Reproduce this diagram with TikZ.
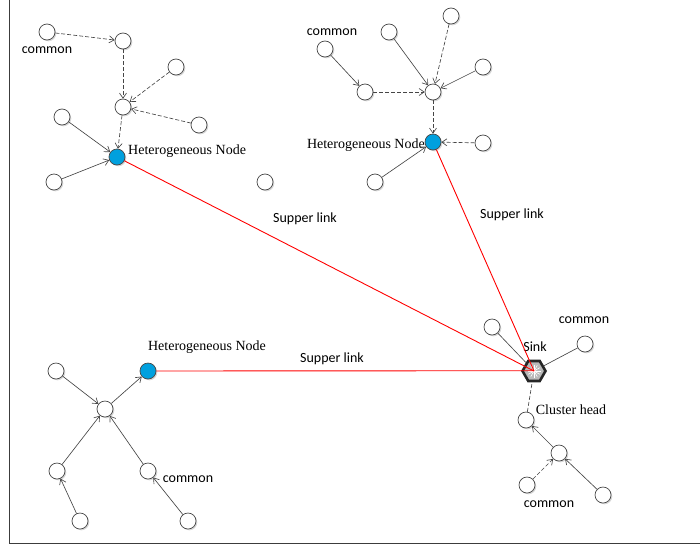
\documentclass[tikz,border=0pt]{standalone}
\usepackage{fontspec}
\setmainfont{Liberation Serif}
\newfontfamily\calfont{Carlito}
\usetikzlibrary{arrows.meta,shapes.geometric,shadows}
\definecolor{edgegray}{RGB}{70,70,70}
\definecolor{hblue}{RGB}{0,160,222}
\definecolor{framegray}{RGB}{60,60,60}
\definecolor{shadowgray}{RGB}{215,215,215}
\tikzset{
  nd/.style={circle,draw=edgegray,line width=0.7pt,fill=white,minimum size=16pt,inner sep=0pt,
    drop shadow={opacity=1,fill=shadowgray,shadow xshift=1.3pt,shadow yshift=-1.3pt}},
  hn/.style={nd,fill=hblue},
  sinkn/.style={regular polygon,regular polygon sides=6,draw=black!85,line width=2.6pt,fill=gray!55,
    minimum size=23pt,inner sep=0pt},
  arr/.style={-{Straight Barb[length=5pt,width=7pt]}},
  sl/.style={draw=edgegray,line width=0.65pt,arr},
  dl/.style={draw=edgegray,line width=0.65pt,dash pattern=on 4pt off 2pt,arr},
  pl/.style={draw=edgegray,line width=0.65pt},
  pdl/.style={draw=edgegray,line width=0.65pt,dash pattern=on 4pt off 2pt},
  rl/.style={draw=red,line width=0.9pt},
  sans/.style={font=\calfont\fontsize{14}{16}\selectfont,inner sep=0pt},
  serif/.style={font=\fontsize{14}{16}\selectfont,inner sep=0pt}
}
\begin{document}
\begin{tikzpicture}[x=1pt,y=-1pt]
\useasboundingbox (0,0) rectangle (700,549);
\draw[framegray,line width=1.2pt] (9.5,0) coordinate (ftop) -- (9.5,543.5) coordinate (fcorner) -- (700,543.5) coordinate (fright);

% top-left cluster
\node[nd] (a1) at (47,32) {};
\node[nd] (a2) at (123,41) {};
\node[nd] (a3) at (176,67) {};
\node[nd] (a4) at (123,107) {};
\node[nd] (a5) at (62,117) {};
\node[nd] (a6) at (199,125) {};
\node[hn] (h1) at (117,157) {};
\node[nd] (a7) at (54,182) {};
\node[nd] (lone) at (265,182) {};
\node[sans] (tcom1) at (47,50) {common};
\node[serif,anchor=west] (th1) at (128,151) {Heterogeneous Node};

% top-right cluster
\node[nd] (b1) at (325,49) {};
\node[nd] (b2) at (389,32) {};
\node[nd] (b3) at (451,16) {};
\node[nd] (b4) at (483,67) {};
\node[nd] (b5) at (365,92) {};
\node[nd] (b6) at (433,92) {};
\node[hn] (h2) at (433,142) {};
\node[nd] (b7) at (483,143) {};
\node[nd] (b8) at (375,182) {};
\node[sans] (tcom2) at (332,32) {common};
\node[serif,anchor=east] (th2) at (425,145) {Heterogeneous Node};

% bottom-right cluster
\node[sinkn] (sink) at (534,371) {};
\foreach \ang in {0,30,...,330}{\draw[white,line width=0.6pt] (sink.center) -- ++(\ang:6.5);}
\node[nd] (c1) at (492,327) {};
\node[nd] (c2) at (585,344) {};
\node[nd] (ch) at (526,420) {};
\node[nd] (c3) at (559,453) {};
\node[nd] (c4) at (527,485) {};
\node[nd] (c5) at (603,495) {};
\node[sans] (tcom3) at (584,320) {common};
\node[sans] (tsink) at (535,347) {Sink};
\node[serif] (tch) at (571,410) {Cluster head};
\node[sans] (tcom4) at (549,504) {common};

% bottom-left cluster
\node[nd] (d1) at (56,371) {};
\node[hn] (h3) at (148,371) {};
\node[nd] (d2) at (105,409) {};
\node[nd] (d3) at (57,471) {};
\node[nd] (d4) at (148,471) {};
\node[nd] (d5) at (80,521) {};
\node[nd] (d6) at (188,521) {};
\node[serif] (th3) at (207,347) {Heterogeneous Node};
\node[sans] (tcom5) at (188,479) {common};

% link labels
\node[sans] (sl1) at (305,219) {Supper link};
\node[sans] (sl2) at (512,215) {Supper link};
\node[sans] (sl3) at (332,359) {Supper link};

% edges top-left
\draw[dl] (a1) -- (a2);
\draw[dl] (a2) -- (a4);
\draw[dl] (a3) -- (a4);
\draw[dl] (a6) -- (a4);
\draw[dl] (a4) -- (h1);
\draw[sl] (a5) -- (h1);
\draw[sl] (a7) -- (h1);

% edges top-right
\draw[sl] (b1) -- (b5);
\draw[dl] (b5) -- (b6);
\draw[sl] (b2) -- (b6);
\draw[dl] (b3) -- (b6);
\draw[sl] (b4) -- (b6);
\draw[dl] (b6) -- (h2);
\draw[dl] (b7) -- (h2);
\draw[sl] (b8) -- (h2);

% edges bottom-right
\draw[pl] (c1) -- (sink);
\draw[pl] (c2) -- (sink);
\draw[pdl] (ch) -- (sink);
\draw[sl] (c3) -- (ch);
\draw[dl] (c4) -- (c3);
\draw[sl] (c5) -- (c3);

% edges bottom-left
\draw[sl] (d1) -- (d2);
\draw[sl] (d2) -- (h3);
\draw[sl] (d3) -- (d2);
\draw[sl] (d4) -- (d2);
\draw[sl] (d5) -- (d3);
\draw[sl] (d6) -- (d4);

% red links
\draw[rl] (h1) -- (sink.center);
\draw[rl] (h2) -- (sink.center);
\draw[rl] (h3) -- ([yshift=0.3pt]sink.center);
\end{tikzpicture}
\end{document}
